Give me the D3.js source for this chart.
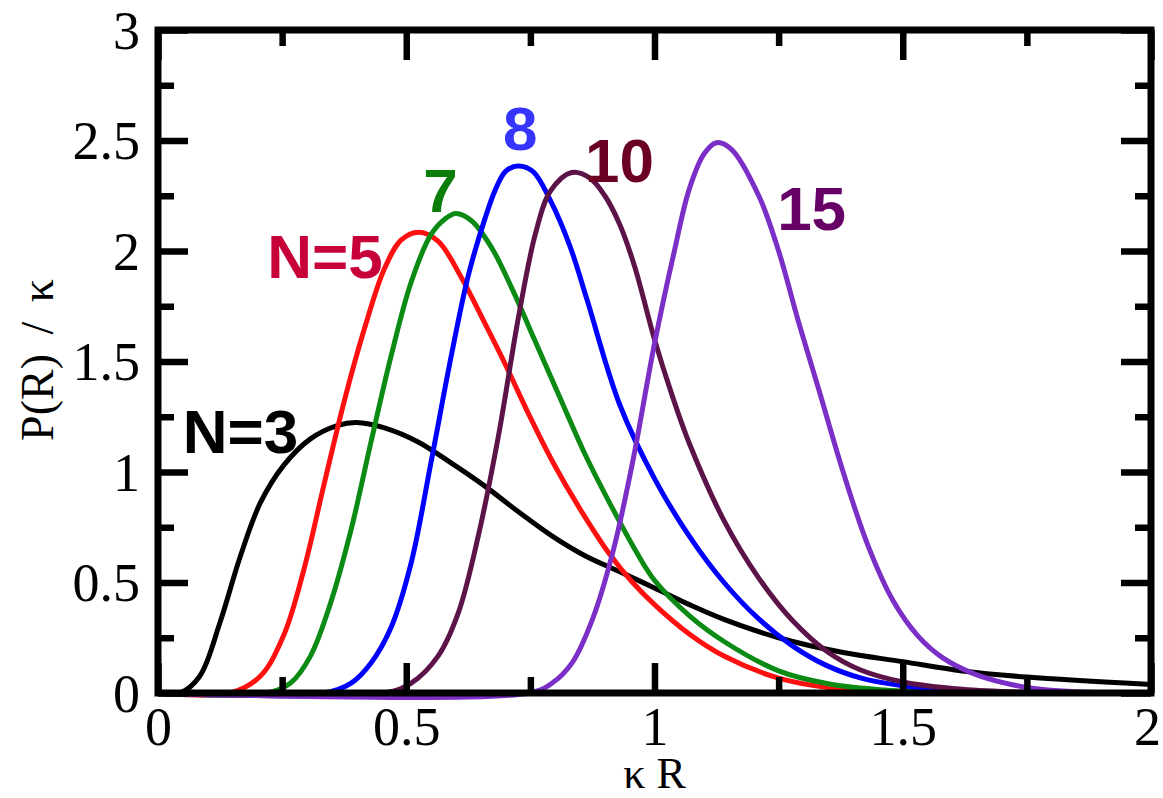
<!DOCTYPE html>
<html lang="en">
<head>
<meta charset="UTF-8">
<title>P(R) / kappa</title>
<script src="https://d3js.org/d3.v7.min.js"></script>
<style>
  body { margin: 0; background: #fff; }
  svg { display: block; }
  .tick text { font-family: "Liberation Serif", "Times New Roman", serif; }
</style>
</head>
<body>
<div id="chart"></div>
<script>
// curves: [kR, P(R)/k]
const n3 = [[0,0],[0.044,0],[0.084,0.076],[0.125,0.32],[0.166,0.62],[0.206,0.86],[0.253,1.03],[0.307,1.15],[0.361,1.21],[0.40,1.224],[0.456,1.20],[0.524,1.136],[0.591,1.04],[0.659,0.935],[0.726,0.82],[0.794,0.71],[0.861,0.62],[0.929,0.55],[1.0,0.475],[1.07,0.40],[1.14,0.333],[1.25,0.25],[1.38,0.183],[1.5,0.142],[1.62,0.10],[1.75,0.072],[2.0,0.038]];
const n5 = [[0,0],[0.145,0],[0.206,0.076],[0.253,0.26],[0.294,0.56],[0.334,0.94],[0.375,1.32],[0.416,1.65],[0.456,1.92],[0.49,2.05],[0.525,2.085],[0.564,2.045],[0.611,1.88],[0.659,1.67],[0.70,1.485],[0.747,1.26],[0.794,1.05],[0.848,0.84],[0.909,0.63],[0.956,0.50],[1.0,0.40],[1.07,0.267],[1.14,0.167],[1.25,0.067],[1.35,0.025],[1.5,0.008],[1.7,0],[2,0]];
const n7 = [[0,0],[0.22,0],[0.267,0.045],[0.307,0.167],[0.348,0.41],[0.389,0.74],[0.429,1.136],[0.47,1.53],[0.51,1.86],[0.55,2.075],[0.578,2.145],[0.60,2.17],[0.632,2.136],[0.672,2.015],[0.713,1.83],[0.76,1.59],[0.807,1.35],[0.861,1.076],[0.916,0.833],[0.963,0.64],[1.0,0.51],[1.07,0.35],[1.14,0.233],[1.25,0.10],[1.35,0.042],[1.5,0.008],[1.7,0],[2,0]];
const n8 = [[0,0],[0.334,0],[0.389,0.045],[0.429,0.136],[0.47,0.30],[0.51,0.59],[0.55,1.045],[0.591,1.53],[0.625,1.89],[0.659,2.15],[0.68,2.28],[0.70,2.36],[0.725,2.385],[0.755,2.36],[0.79,2.23],[0.83,2.02],[0.864,1.78],[0.929,1.31],[1.0,0.97],[1.07,0.71],[1.14,0.50],[1.21,0.335],[1.28,0.21],[1.346,0.125],[1.42,0.065],[1.5,0.033],[1.62,0.008],[1.8,0],[2,0]];
const n10 = [[0,0],[0.456,0],[0.51,0.045],[0.564,0.167],[0.605,0.364],[0.645,0.71],[0.686,1.167],[0.726,1.70],[0.76,2.076],[0.79,2.27],[0.833,2.355],[0.87,2.33],[0.90,2.25],[0.93,2.12],[0.96,1.93],[1.0,1.60],[1.035,1.35],[1.07,1.13],[1.14,0.78],[1.21,0.52],[1.277,0.33],[1.346,0.19],[1.414,0.105],[1.5,0.05],[1.62,0.017],[1.757,0.003],[2,0]];
const n15 = [[0,0],[0.747,0],[0.794,0.045],[0.834,0.136],[0.875,0.333],[0.916,0.636],[0.956,1.045],[1.0,1.58],[1.04,2.0],[1.07,2.28],[1.10,2.44],[1.125,2.49],[1.155,2.46],[1.21,2.25],[1.25,2.0],[1.29,1.68],[1.33,1.38],[1.38,1.0],[1.43,0.667],[1.48,0.42],[1.53,0.26],[1.58,0.16],[1.64,0.09],[1.70,0.048],[1.76,0.022],[1.85,0.006],[2,0]];

const seriesNames = ["N=3", "N=5", "7", "8", "10", "15"];
const lineColors = ["#000000", "#ff1010", "#0b8a14", "#0000ff", "#5c1448", "#7b2fc6"];
const labelColors = ["#000000", "#c8003a", "#0a7d0a", "#3535ff", "#6a0022", "#660066"];
// label anchor (left, baseline) in data units
const labelPos = [[0.05, 1.086], [0.22, 1.878], [0.534, 2.176], [0.695, 2.457], [0.86, 2.312], [1.247, 2.095]];

const xMajor = [0, 0.5, 1, 1.5, 2];
const xMinor = [0.25, 0.75, 1.25, 1.75];
const yMajor = [0, 0.5, 1, 1.5, 2, 2.5, 3];
const yMinor = [0.25, 0.75, 1.25, 1.75, 2.25, 2.75];

const W = 1163, H = 798;
const mLeft = 158, mRight = 1151, mTop = 30, mBottom = 693;

const svg = d3.select("#chart").append("svg")
  .attr("width", W).attr("height", H);

const x = d3.scaleLinear().domain([0, 2]).range([mLeft, mRight]);
const y = d3.scaleLinear().domain([0, 3]).range([mBottom, mTop]);

// curves
const line = d3.line()
  .x(d => x(d[0]))
  .y(d => y(d[1]))
  .curve(d3.curveCatmullRom.alpha(0.5));

const allSeries = [n3, n5, n7, n8, n10, n15];
svg.append("g").selectAll("path")
  .data(allSeries)
  .enter()
  .append("path")
  .attr("d", line)
  .attr("fill", "none")
  .attr("stroke", (d, i) => lineColors[i])
  .attr("stroke-width", 5)
  .attr("stroke-linejoin", "round");

// axes with inward ticks
function styleAxis(g) {
  g.select(".domain").remove();
  g.selectAll(".tick line").attr("stroke", "#000").attr("stroke-width", 6.5);
  g.selectAll(".tick text").attr("fill", "#000").attr("font-size", 54);
}
const fmt = d => d === 0 ? "0" : d3.format("~g")(d);

svg.append("g").attr("transform", `translate(0,${mBottom})`)
  .call(d3.axisBottom(x).tickValues(xMajor).tickSize(-30).tickPadding(14).tickFormat(fmt))
  .call(styleAxis)
  .selectAll(".tick text").attr("dx", d => d === 2 ? -4 : 0);
svg.append("g").attr("transform", `translate(0,${mBottom})`)
  .call(d3.axisBottom(x).tickValues(xMinor).tickSize(-16).tickFormat(""))
  .call(styleAxis);
svg.append("g").attr("transform", `translate(0,${mTop})`)
  .call(d3.axisTop(x).tickValues(xMajor).tickSize(-30).tickFormat(""))
  .call(styleAxis);
svg.append("g").attr("transform", `translate(0,${mTop})`)
  .call(d3.axisTop(x).tickValues(xMinor).tickSize(-16).tickFormat(""))
  .call(styleAxis);

svg.append("g").attr("transform", `translate(${mLeft},0)`)
  .call(d3.axisLeft(y).tickValues(yMajor).tickSize(-30).tickPadding(18).tickFormat(fmt))
  .call(styleAxis)
  .selectAll(".tick text").attr("dy", "0.34em");
svg.append("g").attr("transform", `translate(${mLeft},0)`)
  .call(d3.axisLeft(y).tickValues(yMinor).tickSize(-16).tickFormat(""))
  .call(styleAxis);
svg.append("g").attr("transform", `translate(${mRight},0)`)
  .call(d3.axisRight(y).tickValues(yMajor).tickSize(-30).tickFormat(""))
  .call(styleAxis);
svg.append("g").attr("transform", `translate(${mRight},0)`)
  .call(d3.axisRight(y).tickValues(yMinor).tickSize(-16).tickFormat(""))
  .call(styleAxis);

// frame
svg.append("rect")
  .attr("x", mLeft).attr("y", mTop)
  .attr("width", mRight - mLeft).attr("height", mBottom - mTop)
  .attr("fill", "none").attr("stroke", "#000").attr("stroke-width", 7);

// curve labels
svg.append("g").selectAll("text")
  .data(seriesNames)
  .enter()
  .append("text")
  .attr("x", (d, i) => x(labelPos[i][0]))
  .attr("y", (d, i) => y(labelPos[i][1]))
  .attr("fill", (d, i) => labelColors[i])
  .attr("font-family", "'Liberation Sans', Arial, sans-serif")
  .attr("font-weight", "bold")
  .attr("font-size", 62)
  .text(d => d);

// axis titles
svg.append("text")
  .attr("x", (mLeft + mRight) / 2)
  .attr("y", 788)
  .attr("text-anchor", "middle")
  .attr("font-family", "'Liberation Serif', 'Times New Roman', serif")
  .attr("font-size", 44)
  .text("κ R");

svg.append("text")
  .attr("transform", "translate(53,360) rotate(-90)")
  .attr("text-anchor", "middle")
  .attr("font-family", "'Liberation Serif', 'Times New Roman', serif")
  .attr("font-size", 46)
  .attr("word-spacing", 8)
  .text("P(R) / κ");
</script>
</body>
</html>
